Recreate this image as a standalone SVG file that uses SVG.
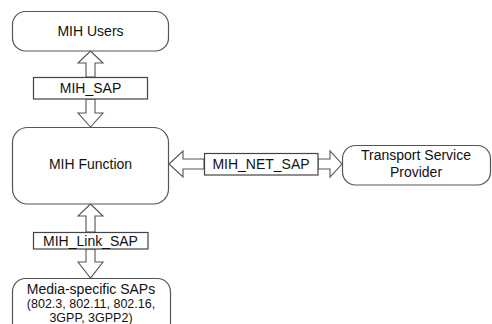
<svg xmlns="http://www.w3.org/2000/svg" width="492" height="324" viewBox="0 0 492 324">
<style>
.box{fill:#fff;stroke:#555;stroke-width:1.2}
.sap{fill:#fff;stroke:#444;stroke-width:1.2}
.arr{fill:#fff;stroke:#555;stroke-width:1.1;stroke-linejoin:miter}
text{font-family:"Liberation Sans",Arial,sans-serif;font-size:14px;fill:#111;text-anchor:middle}
.small{font-size:12.5px}
</style>
<rect width="492" height="324" fill="#fff"/>
<g id="connectors">
<polygon class="arr" points="90.5,51 103,63 95,63 95,77 86,77 86,63 78,63"/>
<polygon class="arr" points="86,99 95,99 95,113 103,113 90.5,127 78,113 86,113"/>
<polygon class="arr" points="90.5,204 103,216 95,216 95,232 86,232 86,216 78,216"/>
<polygon class="arr" points="86,249 95,249 95,262 103,262 90.5,278 78,262 86,262"/>
<polygon class="arr" points="169,164 183,151 183,159 204,159 204,169 183,169 183,177"/>
<polygon class="arr" points="318,159 330,159 330,151 342,164 330,177 330,169 318,169"/>
</g>
<g id="mih-users">
<rect class="box" x="12.5" y="11.5" width="156" height="39.5" rx="13" ry="13"/>
<text x="90.5" y="36">MIH Users</text>
</g>
<g id="mih-sap">
<rect class="sap" x="33.5" y="77.5" width="114" height="21.5"/>
<text x="90.5" y="93">MIH_SAP</text>
</g>
<g id="mih-function">
<rect class="box" x="12.5" y="127.5" width="156" height="76.5" rx="15" ry="15"/>
<text x="90.5" y="169">MIH Function</text>
</g>
<g id="mih-link-sap">
<rect class="sap" x="33.5" y="232.5" width="114.5" height="16.5"/>
<text x="90.5" y="246">MIH_Link_SAP</text>
</g>
<g id="media-saps">
<rect class="box" x="12.5" y="278.5" width="158" height="60" rx="13" ry="13"/>
<text x="91" y="294">Media-specific SAPs</text>
<text x="91" y="308" class="small">(802.3, 802.11, 802.16,</text>
<text x="91" y="321.5" class="small">3GPP, 3GPP2)</text>
</g>
<g id="mih-net-sap">
<rect class="sap" x="204.5" y="153.5" width="113.5" height="21.5"/>
<text x="261" y="169">MIH_NET_SAP</text>
</g>
<g id="transport">
<rect class="box" x="342.5" y="145.5" width="148" height="39.5" rx="13" ry="13"/>
<text x="416" y="160">Transport Service</text>
<text x="416" y="177">Provider</text>
</g>
</svg>
